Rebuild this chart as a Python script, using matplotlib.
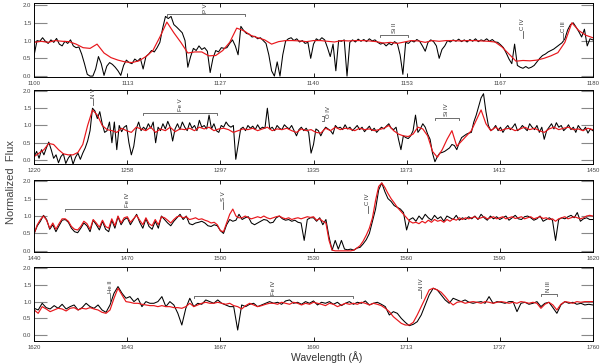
"""
Four-panel far-UV spectrum: observed (black) vs model (red) normalized flux,
with line identifications marked above the spectrum.
"""

import matplotlib

matplotlib.use("Agg")
import matplotlib.pyplot as plt
import numpy as np

plt.rcParams["font.family"] = ["Liberation Sans", "DejaVu Sans"]

# ---- panel 1: 1100-1180 A ------------------------------------------------------
p1_range = (1100, 1180)
p1_obs = [  # 0.4 A steps
    0.60, 1.00, 0.98, 1.08, 0.98, 0.92, 1.02, 0.95, 1.06, 0.90,
    0.85, 0.98, 0.92, 1.02, 0.85, 0.80, 0.82, 0.62, 0.35, 0.05,
    0.00, 0.00, 0.20, 0.55, 0.35, 0.02, 0.28, 0.38, 0.33, 0.25,
    0.15, 0.02, 0.30, 0.45, 0.38, 0.35, 0.48, 0.42, 0.50, 0.20,
    0.55, 0.62, 0.72, 0.68, 0.80, 0.95, 1.35, 1.68, 1.62, 1.68,
    1.45, 1.38, 1.30, 1.22, 1.00, 0.25, 0.55, 0.78, 0.72, 0.85,
    0.75, 0.80, 0.70, 0.10, 0.50, 0.72, 0.68, 0.80, 0.78, 0.80,
    0.92, 1.02, 0.85, 0.60, 1.40, 1.28, 1.20, 1.18, 1.10, 1.12,
    1.05, 1.08, 1.00, 0.92, 0.60, 0.15, 0.00, 0.40, 0.00, 0.60,
    0.98, 1.05, 1.08, 1.00, 1.05, 0.96, 1.00, 0.92, 0.95, 0.50,
    0.90, 1.05, 1.00, 1.08, 1.02, 0.80, 0.55, 0.90, 0.15, 1.00,
    0.98, 1.02, 0.00, 0.95, 1.02, 0.96, 1.04, 0.98, 1.03, 0.97,
    1.05, 0.99, 1.02, 0.95, 0.90, 0.93, 0.85, 0.92, 0.88, 0.97,
    0.92, 0.60, 0.05, 0.95, 0.92, 1.00, 0.96, 1.03, 0.98, 0.85,
    0.70, 0.95, 1.02, 0.97, 0.85, 0.50, 0.75, 0.85, 1.00, 0.96,
    1.02, 0.98, 1.04, 0.97, 1.02, 0.96, 1.03, 0.98, 1.05, 0.97,
    1.02, 0.99, 1.05, 0.98, 1.03, 0.96, 0.95, 0.88, 0.80, 0.65,
    0.48, 0.35, 0.90, 0.30, 0.25, 0.22, 0.27, 0.22, 0.25, 0.30,
    0.40, 0.50, 0.58, 0.62, 0.68, 0.72, 0.76, 0.82, 0.88, 0.94,
    1.05, 1.30, 1.45, 1.50, 1.38, 1.25, 1.10, 1.32, 0.85, 1.05,
    1.02,
]
p1_model = [  # 1 A steps
    0.95, 0.98, 0.95, 1.00, 0.98, 0.97, 0.90, 0.80, 0.78, 0.90,
    0.65, 0.52, 0.45, 0.40, 0.38, 0.43, 0.55, 0.72, 1.10, 1.52,
    1.22, 0.95, 0.65, 0.68, 0.68, 0.57, 0.58, 0.72, 0.95, 1.35,
    1.28, 1.15, 1.08, 1.02, 0.90, 0.97, 1.00, 1.00, 0.99, 0.97,
    1.00, 1.00, 0.98, 0.96, 1.00, 0.99, 1.00, 1.00, 0.99, 0.97,
    0.93, 0.95, 0.92, 0.96, 1.00, 0.99, 0.95, 1.00, 0.98, 1.00,
    1.00, 0.99, 1.00, 1.00, 0.99, 0.98, 0.96, 0.82, 0.62, 0.42,
    0.44, 0.43, 0.45, 0.50, 0.57, 0.66, 0.95, 1.50, 1.28, 1.15,
    1.08,
]
p1_brackets = [(1119.0, 1130.2, 1.75, "P V"), (1149.5, 1153.6, 1.17, "Si II")]
p1_marks = [(1170.0, 1.06, "C IV"), (1175.8, 1.00, "C III")]

# ---- panel 2: 1220-1450 A ------------------------------------------------------
p2_range = (1220, 1450)
p2_obs = [  # 1 A steps
    0.10, 0.25, 0.05, 0.30, 0.15, 0.35, 0.52, 0.30, 0.05, 0.15,
    -0.08, 0.10, 0.18, -0.10, 0.05, 0.15, -0.12, 0.08, 0.20, 0.02,
    0.20, 0.35, 0.55, 0.85, 1.50, 1.42, 1.20, 1.40, 1.05, 0.80,
    0.85, 1.10, 0.50, 1.10, 0.30, 1.00, 0.82, 0.95, 1.00, 0.50,
    0.15, 0.40, 0.90, 1.10, 0.85, 0.95, 0.88, 1.05, 0.92, 1.10,
    0.50, 0.95, 0.85, 1.05, 0.90, 1.12, 0.95, 0.55, 0.90, 1.05,
    0.88, 1.10, 0.95, 0.85, 1.08, 0.92, 1.00, 0.85, 1.15, 0.95,
    1.00, 0.90, 1.30, 0.90, 1.05, 0.85, 0.80, 1.00, 0.95, 1.10,
    1.00, 0.95, 1.00, 0.02, 0.45, 0.90, 0.95, 0.85, 1.00, 0.92,
    0.98, 0.88, 1.02, 0.90, 0.95, 0.92, 1.50, 0.90, 0.95, 0.85,
    1.00, 0.92, 0.88, 1.02, 0.95, 0.90, 1.00, 0.85, 0.70, 0.88,
    0.95, 0.85, 0.92, 0.80, 0.20, 0.45, 0.90, 0.85, 0.70, 0.85,
    0.95, 0.90, 0.85, 0.75, 1.00, 0.92, 0.95, 0.88, 1.02, 0.90,
    0.95, 0.85, 0.92, 1.00, 0.88, 0.95, 0.82, 0.90, 0.98, 0.85,
    0.92, 0.80, 0.88, 0.95, 0.90, 0.98, 1.05, 0.92, 0.88, 0.95,
    0.60, 0.30, 0.70, 0.65, 0.62, 0.70, 0.85, 1.30, 0.80, 0.90,
    1.05, 0.95, 0.75, 0.60, 0.20, -0.05, 0.10, 0.20, 0.22, 0.25,
    0.30, 0.35, 0.45, 0.42, 0.30, 0.50, 0.65, 0.70, 0.75, 0.78,
    0.80, 1.10, 1.30, 1.55, 1.80, 1.92, 1.40, 1.00, 0.85, 0.90,
    1.00, 0.85, 0.95, 0.80, 0.92, 1.00, 0.88, 0.95, 1.05, 0.85,
    0.90, 1.00, 0.92, 0.85, 1.05, 0.95, 0.88, 1.00, 0.80, 0.95,
    0.60, 0.85, 0.95, 1.05, 0.90, 1.08, 0.95, 1.00, 0.85, 0.92,
    1.02, 0.88, 0.95, 0.80, 1.00, 0.90, 0.85, 0.95, 0.78, 0.90,
    0.85,
]
p2_model = [  # 2 A steps
    0.10, 0.20, 0.30, 0.48, 0.45, 0.30, 0.18, 0.15, 0.15, 0.22,
    0.45, 1.00, 1.45, 1.30, 1.00, 0.88, 0.85, 0.80, 0.92, 0.85,
    0.80, 0.95, 0.90, 0.85, 0.95, 0.80, 0.90, 0.85, 0.95, 0.82,
    0.90, 0.88, 0.92, 0.85, 0.95, 0.90, 0.95, 0.85, 0.90, 0.92,
    0.88, 0.80, 0.85, 0.90, 0.88, 0.92, 0.85, 0.90, 0.95, 0.85,
    0.90, 0.88, 0.92, 0.85, 0.80, 0.90, 0.85, 0.88, 0.80, 0.78,
    0.92, 0.85, 0.95, 0.88, 0.92, 0.90, 0.85, 0.92, 0.88, 0.90,
    0.85, 0.88, 0.92, 1.00, 0.85, 0.75, 0.70, 0.68, 0.75, 0.95,
    0.90, 0.70, 0.25, 0.08, 0.30, 0.60, 0.85, 0.40, 0.55, 0.70,
    0.85, 1.15, 1.45, 1.05, 0.85, 0.95, 0.85, 0.90, 0.92, 0.85,
    0.90, 0.95, 0.88, 0.92, 0.85, 0.80, 0.90, 0.95, 0.88, 0.92,
    0.95, 0.88, 0.90, 0.85, 0.92, 0.88,
]
p2_brackets = [(1265.0, 1295.3, 1.37, "Fe V"), (1385.0, 1394.9, 1.23, "Si IV")]
p2_marks = [(1244.3, 1.58, "N V")]
p2_vbrackets = [(1339.5, 1.12, 1.27, "O IV")]

# ---- panel 3: 1440-1620 A ------------------------------------------------------
p3_range = (1440, 1620)
p3_obs = [  # 1 A steps
    0.50, 0.72, 0.85, 1.02, 0.90, 0.62, 0.75, 0.55, 0.72, 0.88,
    0.90, 0.82, 0.65, 0.55, 0.52, 0.65, 0.80, 0.72, 0.55, 0.88,
    0.75, 0.60, 0.85, 0.62, 0.55, 0.88, 0.65, 0.98, 0.75, 0.90,
    0.95, 0.75, 0.90, 1.05, 0.82, 0.65, 0.92, 0.70, 0.62, 0.85,
    0.65, 1.00, 0.90, 0.80, 0.72, 0.85, 0.95, 1.05, 0.90, 1.00,
    0.78, 0.75, 0.80, 0.82, 0.85, 0.80, 0.72, 0.70, 0.75, 0.72,
    0.58, 0.50, 0.75, 0.90, 0.85, 0.88, 1.05, 0.90, 0.95, 0.98,
    0.80, 0.75, 0.80, 0.85, 0.90, 0.88, 0.80, 0.82, 0.95, 1.00,
    0.92, 0.88, 0.90, 0.85, 0.88, 0.82, 0.80, 0.30, 0.90, 0.95,
    0.95, 0.85, 0.95, 0.75, 0.90, 0.40, 0.02, 0.30, 0.05, 0.30,
    0.05, 0.03, 0.05, 0.02, 0.08, 0.10, 0.20, 0.32, 0.50, 0.85,
    1.20, 1.75, 1.95, 1.70, 1.50, 1.42, 1.30, 1.25, 1.20, 1.10,
    0.60, 0.90, 0.95, 0.85, 1.00, 0.90, 1.05, 0.95, 0.88, 1.02,
    0.92, 0.98, 0.85, 1.00, 0.95, 0.90, 1.02, 0.88, 0.95, 0.90,
    0.98, 0.92, 1.00, 0.90, 1.05, 0.95, 0.88, 1.00, 0.92, 0.98,
    0.90, 0.95, 1.00, 0.88, 0.95, 1.02, 0.92, 0.90, 0.98, 1.00,
    0.95, 0.88, 0.92, 1.00, 0.85, 0.90, 0.95, 0.88, 0.30, 0.90,
    0.95, 0.92, 0.98, 1.02, 0.95, 1.10, 0.85, 0.92, 0.95, 0.90,
    0.90,
]
p3_model = [  # 1 A steps
    0.50, 0.75, 0.90, 1.00, 0.88, 0.65, 0.80, 0.62, 0.78, 0.92,
    0.92, 0.85, 0.70, 0.62, 0.60, 0.70, 0.85, 0.78, 0.62, 0.90,
    0.80, 0.68, 0.88, 0.70, 0.65, 0.92, 0.72, 1.00, 0.80, 0.95,
    0.98, 0.82, 0.92, 1.02, 0.88, 0.75, 0.95, 0.78, 0.72, 0.90,
    0.75, 0.98, 0.95, 0.88, 0.80, 0.90, 0.98, 1.00, 0.95, 0.98,
    0.90, 0.92, 0.95, 0.90, 0.92, 0.88, 0.85, 0.80, 0.82, 0.75,
    0.58, 0.55, 0.80, 1.05, 1.20, 1.00, 0.95, 0.95, 1.00, 0.95,
    0.92, 0.95, 0.98, 0.95, 1.00, 0.95, 0.92, 0.95, 0.98, 1.00,
    0.95, 0.92, 0.95, 0.90, 0.93, 0.95, 0.92, 0.95, 0.98, 0.96,
    0.98, 0.88, 0.92, 0.85, 0.80, 0.30, 0.02, 0.00, 0.00, 0.00,
    0.00, 0.00, 0.00, 0.02, 0.08, 0.15, 0.28, 0.45, 0.65, 0.95,
    1.45, 1.85, 1.95, 1.82, 1.65, 1.50, 1.38, 1.25, 1.15, 1.05,
    0.95, 0.85, 0.80, 0.82, 0.78, 0.85, 0.80, 0.88, 0.82, 0.90,
    0.85, 0.88, 0.82, 0.90, 0.85, 0.92, 0.88, 0.95, 0.90, 0.95,
    0.92, 0.95, 0.98, 0.92, 0.95, 0.98, 0.92, 0.95, 0.98, 0.92,
    0.95, 0.98, 0.92, 0.95, 0.98, 0.93, 0.95, 0.98, 0.92, 0.95,
    0.98, 0.92, 0.95, 0.98, 0.93, 0.95, 0.90, 0.92, 0.85, 0.92,
    0.95, 0.98, 0.92, 0.95, 0.98, 0.95, 0.92, 0.95, 1.00, 1.02,
    1.00,
]
p3_brackets = [(1450.0, 1490.2, 1.21, "Fe IV")]
p3_marks = [(1500.9, 1.20, "S V"), (1547.5, 1.10, "C IV")]

# ---- panel 4: 1620-1760 A ------------------------------------------------------
p4_range = (1620, 1760)
p4_obs = [  # 1 A steps
    0.80, 0.75, 0.95, 0.82, 0.78, 0.88, 0.80, 0.92, 0.78, 0.85,
    0.90, 0.75, 0.82, 0.95, 0.85, 0.80, 0.90, 0.75, 0.68, 0.90,
    1.25, 1.45, 1.25, 1.10, 1.15, 1.00, 1.10, 0.85, 1.00, 0.95,
    0.95, 1.00, 1.15, 0.85, 1.00, 0.90, 0.65, 0.30, 0.80, 1.10,
    0.85, 0.95, 0.92, 1.05, 1.00, 0.95, 1.05, 0.95, 0.90, 0.85,
    0.85, 0.15, 0.90, 0.85, 0.92, 0.95, 0.85, 0.90, 0.95, 1.00,
    0.95, 0.98, 0.92, 1.02, 1.05, 0.95, 0.98, 0.92, 1.00, 0.95,
    1.02, 0.90, 0.98, 0.95, 1.00, 0.92, 0.98, 0.88, 0.95, 1.00,
    0.92, 0.98, 0.95, 1.02, 0.90, 0.95, 0.98, 0.92, 0.85, 0.60,
    0.70, 0.65, 0.50, 0.38, 0.28, 0.32, 0.40, 0.60, 0.90, 1.20,
    1.40, 1.35, 1.20, 1.05, 0.95, 1.10, 1.05, 1.00, 1.05, 0.98,
    0.95, 0.98, 1.00, 0.95, 1.15, 0.95, 1.00, 0.98, 0.95, 1.00,
    1.00, 0.70, 0.95, 0.98, 0.92, 0.95, 1.00, 0.85, 0.95, 0.98,
    0.82, 0.65, 0.90, 1.00, 0.95, 0.98, 0.92, 0.95, 0.90, 0.92,
    0.90,
]
p4_model = [  # 1 A steps
    0.75, 0.65, 0.85, 0.78, 0.70, 0.75, 0.80, 0.78, 0.72, 0.80,
    0.82, 0.75, 0.80, 0.78, 0.82, 0.78, 0.75, 0.68, 0.65, 0.75,
    1.10, 1.40, 1.20, 1.00, 0.98, 0.95, 0.95, 0.92, 0.90, 0.88,
    0.88, 0.85, 0.88, 0.85, 0.85, 0.82, 0.82, 0.80, 0.85, 0.95,
    0.85, 0.90, 0.95, 0.98, 0.95, 0.95, 0.98, 0.95, 0.92, 0.95,
    0.88, 0.85, 0.78, 0.88, 0.95, 0.90, 0.85, 0.88, 0.92, 0.95,
    0.95, 0.92, 0.98, 0.95, 0.92, 0.98, 0.95, 0.90, 0.95, 0.92,
    0.98, 0.95, 0.92, 0.88, 0.95, 0.92, 0.85, 0.90, 0.95, 0.92,
    0.95, 0.92, 0.98, 0.95, 0.90, 0.95, 0.92, 0.88, 0.80, 0.70,
    0.55, 0.45, 0.35, 0.30, 0.30, 0.38, 0.60, 0.85, 1.10, 1.35,
    1.40, 1.35, 1.28, 1.15, 1.00, 0.90, 0.98, 1.00, 0.95, 0.98,
    1.00, 0.98, 0.95, 1.00, 0.98, 0.95, 0.98, 1.00, 0.98, 0.95,
    0.98, 0.95, 1.00, 0.98, 0.95, 0.98, 0.95, 0.80, 0.92, 0.98,
    0.90, 0.75, 0.92, 1.00, 0.98, 0.95, 1.00, 0.98, 1.00, 1.00,
    1.00,
]
p4_brackets = [(1660.0, 1700.0, 1.17, "Fe IV"), (1747.0, 1751.0, 1.24, "N III")]
p4_marks = [(1639.0, 1.03, "He II"), (1717.0, 1.12, "N IV")]

# axes rectangles (left, bottom, width, height) in figure fractions, and y limits
_RECTS = [(0.057, 0.788, 0.931, 0.204), (0.057, 0.549, 0.931, 0.204),
          (0.057, 0.308, 0.931, 0.197), (0.057, 0.063, 0.931, 0.203)]
_YLIMS = [(-0.03, 2.06), (-0.12, 2.03), (-0.03, 2.03), (-0.18, 2.03)]
_ANNOT = "#333333"
_FS = 4.3


def bracket(ax, x0, x1, y, label):
    ax.plot([x0, x0, x1, x1], [y - 0.07, y, y, y - 0.07], color="#555555", lw=0.6)
    ax.text((x0 + x1) / 2, y + 0.04, label, rotation=90, ha="center", va="bottom",
            fontsize=_FS, color=_ANNOT)


def mark(ax, x, base, label):
    ax.plot([x, x], [base, base + 0.2], color="#555555", lw=0.6)
    ax.text(x, base + 0.23, label, rotation=90, ha="center", va="bottom",
            fontsize=_FS, color=_ANNOT)


def vbracket(ax, x, y0, y1, label, span):
    w = span * 0.004
    ax.plot([x - w, x, x, x - w], [y0, y0, y1, y1], color="#555555", lw=0.6)
    ax.text(x + 2 * w, y1 - 0.05, label, rotation=90, ha="center", va="bottom",
            fontsize=_FS, color=_ANNOT)


def draw_panel(fig, rect, ylim, wrange, obs, model, brackets, marks, vbrackets=()):
    ax = fig.add_axes(rect)
    lo, hi = wrange
    ax.plot(np.linspace(lo, hi, len(obs)), obs, color="black", lw=0.75)
    ax.plot(np.linspace(lo, hi, len(model)), model, color="#e8161b", lw=0.85)
    for x0, x1, y, label in brackets:
        bracket(ax, x0, x1, y, label)
    for x, base, label in marks:
        mark(ax, x, base, label)
    for x, y0, y1, label in vbrackets:
        vbracket(ax, x, y0, y1, label, hi - lo)
    ax.set_xlim(lo, hi)
    ax.set_ylim(*ylim)
    ticks = np.linspace(lo, hi, 7)
    ax.set_xticks(ticks)
    ax.set_xticklabels([f"{t:.0f}" for t in ticks])
    ax.set_yticks([0.0, 0.5, 1.0, 1.5, 2.0])
    ax.set_yticklabels(["0.0", "0.5", "1.0", "1.5", "2.0"])
    ax.tick_params(axis="x", direction="in", top=True, length=3, width=0.6,
                   labelsize=_FS, pad=3, labelcolor="#444444")
    ax.tick_params(axis="y", direction="in", right=True, length=9, width=0.8,
                   color="#888888", labelsize=_FS, pad=2, labelcolor="#444444")
    for spine in ax.spines.values():
        spine.set_linewidth(0.7)
    return ax


def main():
    fig = plt.figure(figsize=(6.0, 3.64), dpi=100)
    panels = [
        (p1_range, p1_obs, p1_model, p1_brackets, p1_marks, ()),
        (p2_range, p2_obs, p2_model, p2_brackets, p2_marks, p2_vbrackets),
        (p3_range, p3_obs, p3_model, p3_brackets, p3_marks, ()),
        (p4_range, p4_obs, p4_model, p4_brackets, p4_marks, ()),
    ]
    for rect, ylim, (wr, obs, mod, br, mk, vb) in zip(_RECTS, _YLIMS, panels):
        draw_panel(fig, rect, ylim, wr, obs, mod, br, mk, vb)
    fig.text(0.018, 0.5, "Normalized  Flux", rotation=90, ha="center", va="center",
             fontsize=8, color="#444444")
    fig.text(0.545, 0.018, "Wavelength (Å)", ha="center", va="center",
             fontsize=7.5, color="#333333")
    fig.savefig("out.png", dpi=100)
    plt.close(fig)


if __name__ == "__main__":
    main()
